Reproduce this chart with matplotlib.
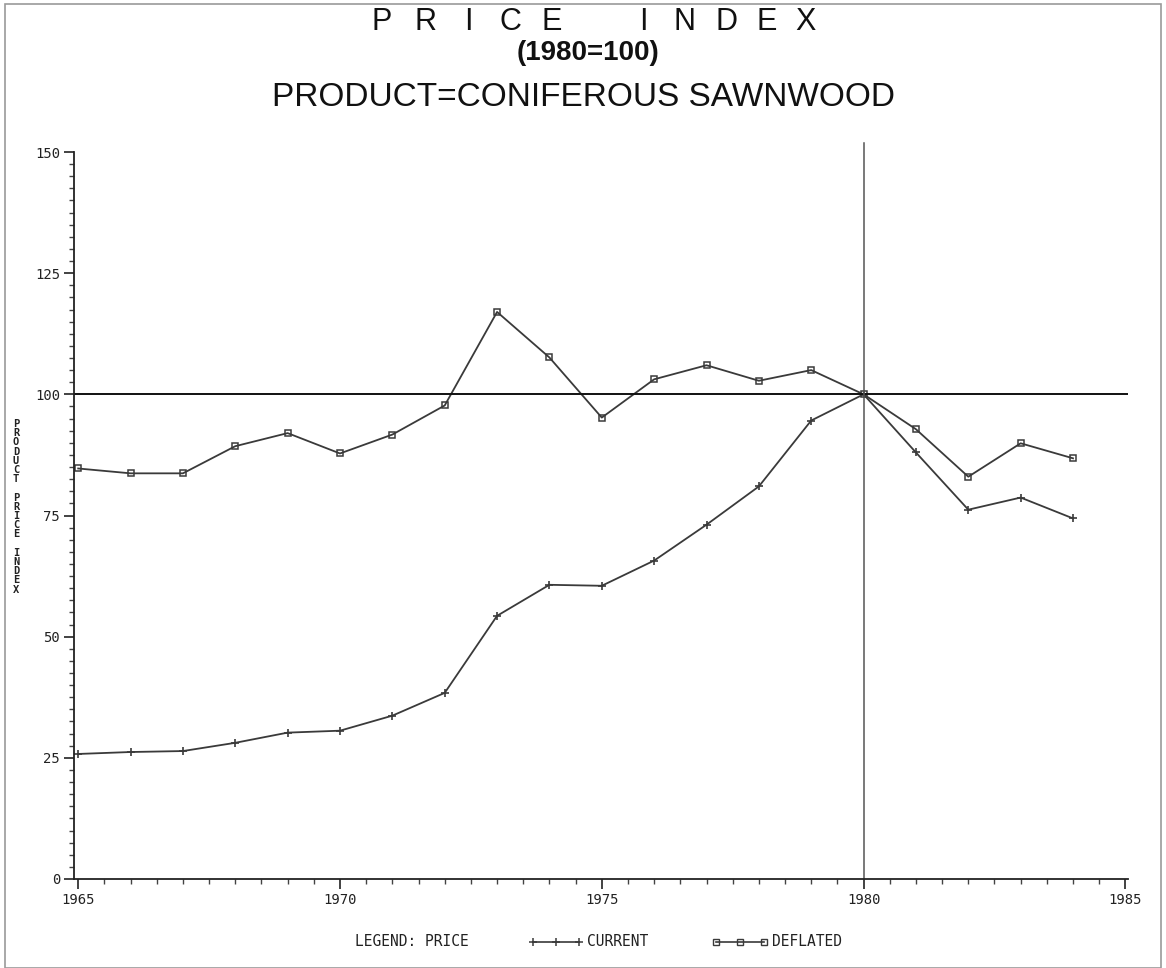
import matplotlib
matplotlib.use("Agg")
import matplotlib.pyplot as plt
from matplotlib.ticker import MultipleLocator
from matplotlib.lines import Line2D
from matplotlib.patches import Rectangle

years = list(range(1965, 1985))
current = [25.8, 26.2, 26.4, 28.1, 30.2, 30.6, 33.7, 38.4, 54.3, 60.7,
           60.5, 65.7, 73.1, 81.0, 94.6, 100.0, 88.0, 76.2, 78.7, 74.4]
deflated = [84.7, 83.7, 83.7, 89.3, 92.0, 87.8, 91.7, 97.7, 117.0, 107.6,
            95.2, 103.1, 106.0, 102.8, 105.0, 100.0, 92.8, 83.0, 89.9, 86.8]
y_ticks = [0, 25, 50, 75, 100, 125, 150]
x_ticks = [1965, 1970, 1975, 1980, 1985]

W, H = 1166, 968
fig = plt.figure(figsize=(W / 100, H / 100), dpi=100)
ax = fig.add_axes([74 / W, 1 - 879 / H, (1128 - 74) / W, (879 - 152) / H])

line_col = "#3a3a3a"
ax.plot(years, current, color=line_col, lw=1.3, marker="+", ms=6, mew=1.2)
ax.plot(years, deflated, color=line_col, lw=1.3, marker="s", ms=4.5,
        mfc="none", mew=1.1)

ax.axhline(100, color="#111111", lw=1.4)
ax.axvline(1980, color="#555555", lw=1.1, ymax=1.012, clip_on=False)

ax.set_xlim(1964.92, 1985.05)
ax.set_ylim(0, 150)
ax.set_xticks(x_ticks)
ax.set_yticks(y_ticks)
ax.xaxis.set_minor_locator(MultipleLocator(0.5))
ax.yaxis.set_minor_locator(MultipleLocator(2.5))
for s in ["top", "right"]:
    ax.spines[s].set_visible(False)
for s in ["left", "bottom"]:
    ax.spines[s].set_color("#222222")
    ax.spines[s].set_linewidth(1.3)
ax.tick_params(which="major", direction="out", length=7, width=1.2, color="#222222",
               labelsize=10, pad=3)
ax.tick_params(which="minor", direction="out", length=3.5, width=1.0, color="#444444")
for lab in ax.get_xticklabels() + ax.get_yticklabels():
    lab.set_family("DejaVu Sans Mono")
    lab.set_color("#222222")

# titles
title_letters = ["P", "R", "I", "C", "E", "I", "N", "D", "E", "X"]
title_x = [382, 425, 468, 510, 552, 643, 685, 727, 767, 805]
for ch, x in zip(title_letters, title_x):
    fig.text(x / W, 1 - 22 / H, ch, ha="center", va="center",
             fontsize=22, family="Liberation Sans", color="#111111")
fig.text(588 / W, 1 - 53 / H, "(1980=100)", ha="center", va="center",
         fontsize=20, fontweight="bold", family="Liberation Sans", color="#111111")
fig.text(584 / W, 1 - 98 / H, "PRODUCT=CONIFEROUS SAWNWOOD", ha="center", va="center",
         fontsize=24, family="Liberation Sans", color="#111111")

# y label (stacked letters)
ylab = "PRODUCT PRICE INDEX"
y0 = 424
step = 9.2
for i, ch in enumerate(ylab):
    if ch != " ":
        fig.text(16 / W, 1 - (y0 + i * step) / H, ch, ha="center", va="center",
                 fontsize=7.5, family="DejaVu Sans Mono", fontweight="bold", color="#222222")

# legend
ly = 1 - 942 / H
fig.text(355 / W, ly, "LEGEND: PRICE", ha="left", va="center", fontsize=10.5,
         family="DejaVu Sans Mono", color="#222222")
lx = [533, 556, 579]
fig.add_artist(Line2D([x / W for x in lx], [ly] * 3, color=line_col, lw=1.2,
                      marker="+", ms=6, mew=1.1))
fig.text(587 / W, ly, "CURRENT", ha="left", va="center", fontsize=10.5,
         family="DejaVu Sans Mono", color="#222222")
lx2 = [716, 740, 764]
fig.add_artist(Line2D([x / W for x in lx2], [ly] * 3, color=line_col, lw=1.2,
                      marker="s", ms=4, mfc="none", mew=1.0))
fig.text(772 / W, ly, "DEFLATED", ha="left", va="center", fontsize=10.5,
         family="DejaVu Sans Mono", color="#222222")

# page border (scan frame)
fig.add_artist(Rectangle((0.004, 0.0), 0.992, 0.996, transform=fig.transFigure,
                         fill=False, edgecolor="#9a9a9a", lw=1.2))

fig.savefig("out.png", dpi=100, facecolor="white")
